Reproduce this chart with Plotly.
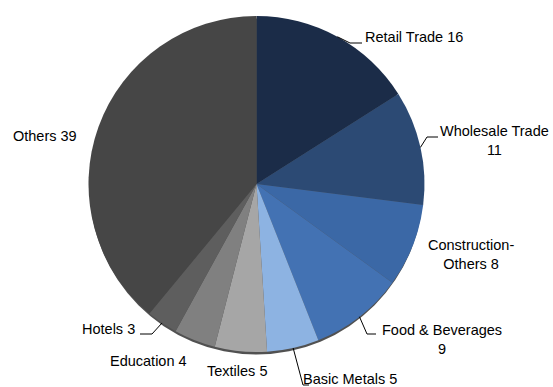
import math
import plotly.graph_objects as go

# Sector shares (%), clockwise from 12 o'clock
sectors = ["Retail Trade", "Wholesale Trade", "Construction-Others", "Food & Beverages",
           "Basic Metals", "Textiles", "Education", "Hotels", "Others"]
shares = [16, 11, 8, 9, 5, 5, 4, 3, 39]
colors = ["#1b2c48", "#2c4a74", "#3b68a6", "#4372b3", "#8db3e2",
          "#a6a6a6", "#808080", "#5e5e5e", "#464646"]

# Label text (as displayed) for each sector
label_text = ["Retail Trade 16", "Wholesale Trade<br>11", "Construction-<br>Others 8",
              "Food & Beverages<br>9", "Basic Metals 5", "Textiles 5", "Education 4",
              "Hotels 3", "Others 39"]

W, H = 553, 387
# pie placement in pixels
CX, CY, R = 256.5, 184.0, 168.0

def px(x):
    return x / W

def py(y):
    return 1 - y / H

fig = go.Figure()
fig.add_trace(go.Pie(
    labels=sectors,
    values=shares,
    sort=False,
    direction="clockwise",
    rotation=0,
    marker=dict(colors=colors, line=dict(width=0)),
    textinfo="none",
    showlegend=False,
    domain=dict(x=[px(CX - R), px(CX + R)], y=[py(CY + R), py(CY - R)]),
))

FONT = dict(family="Liberation Sans, Arial, sans-serif", size=14.5, color="#000000")

# label placements: (x, center y, anchor)
label_pos = [
    (364, 37, "left"),
    (494, 140, "center"),
    (471, 254, "center"),
    (442, 339, "center"),
    (302, 379, "left"),
    (237, 371, "center"),
    (148, 361, "center"),
    (136, 329, "right"),
    (45, 136, "center"),
]

annotations = []
for txt, (x, y, anc) in zip(label_text, label_pos):
    annotations.append(dict(
        x=px(x), y=py(y), xref="paper", yref="paper", text=txt,
        showarrow=False, xanchor=anc, yanchor="middle", align="center",
        font=FONT, borderpad=0,
    ))

# leader lines from the slice mid-angle on the rim to the label
elbows = {
    0: [(350, 43), (362, 43)],
    1: [(427, 137), (438, 137)],
    3: [(367, 334), (376, 334)],
    4: [(303, 385), (309, 385)],
    7: [(152, 334), (140, 334)],
}
total = sum(shares)
cum = 0
mids = []
for v in shares:
    mids.append((cum + v / 2) / total * 2 * math.pi)
    cum += v

shapes = [
    # soft rim under the pie
    dict(type="circle", xref="paper", yref="paper", layer="below",
         x0=px(CX - R + 1), x1=px(CX + R - 1), y0=py(CY + R + 2.5), y1=py(CY - R + 2.5),
         fillcolor="#333333", line=dict(width=0), opacity=0.85),
]
for i, pts in elbows.items():
    a = mids[i]
    ax = CX + R * math.sin(a)
    ay = CY - R * math.cos(a)
    path_pts = [(ax, ay)] + pts
    d = "M " + " L ".join(f"{px(x)},{py(y)}" for x, y in path_pts)
    shapes.append(dict(type="path", xref="paper", yref="paper", path=d,
                       line=dict(color="#000000", width=1)))

fig.update_layout(
    width=W, height=H,
    margin=dict(l=0, r=0, t=0, b=0),
    paper_bgcolor="#ffffff",
    plot_bgcolor="#ffffff",
    annotations=annotations,
    shapes=shapes,
)

fig.write_html("out.html")
